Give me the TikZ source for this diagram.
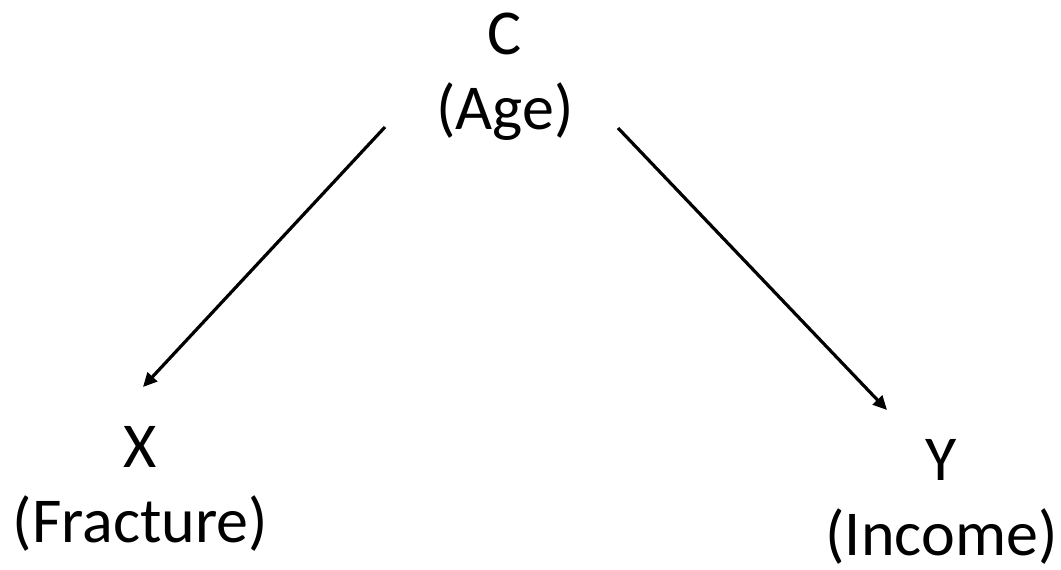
\documentclass[tikz,border=0pt]{standalone}
\usepackage{fontspec}
\setmainfont{Carlito}
\usetikzlibrary{arrows.meta}
\tikzset{
  var/.style={align=center, inner sep=0pt, anchor=north, font=\fontsize{64}{75}\selectfont},
  causal/.style={line width=3.2pt, -{Triangle[length=14pt,width=13pt]}}
}
\begin{document}
\begin{tikzpicture}[x=1pt,y=1pt]
\useasboundingbox (0,0) rectangle (1061,-570);
\node[var] (c) at (505,-13) {C\\(Age)};
\node[var] (x) at (140.5,-426) {X\\(Fracture)};
\node[var] (y) at (941.5,-439) {Y\\(Income)};
\coordinate (c1) at (385,-127);
\coordinate (x1) at (143,-387);
\coordinate (c2) at (618,-128);
\coordinate (y1) at (887,-410);
\draw[causal] (c1) -- (x1);
\draw[causal] (c2) -- (y1);
\end{tikzpicture}
\end{document}
